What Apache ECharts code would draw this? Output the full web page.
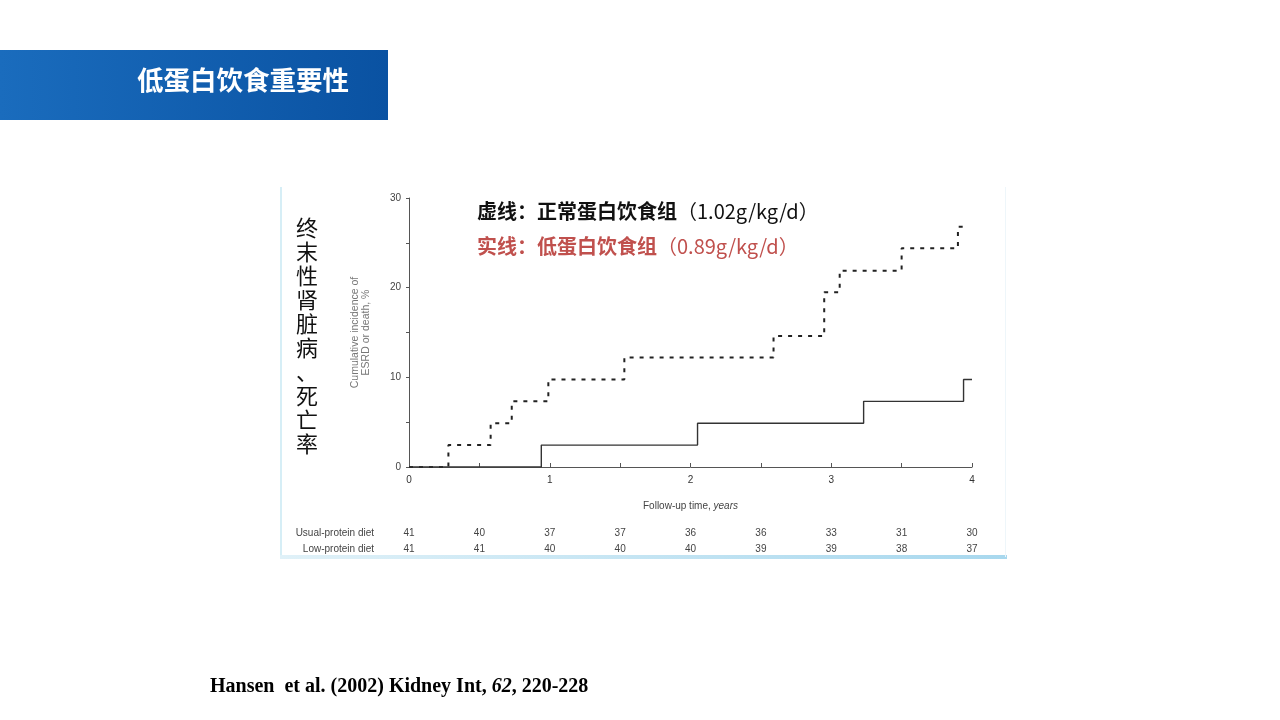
<!DOCTYPE html>
<html>
<head>
<meta charset="utf-8">
<title>低蛋白饮食重要性</title>
<script src="https://cdn.jsdelivr.net/npm/echarts@6/dist/echarts.min.js"></script>
<style>
  html, body { margin: 0; padding: 0; background: #fff; }
  #chart { width: 1280px; height: 720px; }
</style>
</head>
<body>
<div id="chart"></div>
<script>
// step points: time (years) and cumulative incidence (%) after each event
var usualTimes  = [0, 0.28, 0.58, 0.73, 0.99, 1.53, 2.59, 2.95, 3.06, 3.50, 3.90, 3.97];
var usualValues = [0, 2.44, 4.88, 7.32, 9.76, 12.2, 14.6, 19.5, 21.9, 24.4, 26.8, 26.8];
var lowTimes  = [0, 0.94, 2.05, 3.23, 3.94, 4.0];
var lowValues = [0, 2.44, 4.88, 7.32, 9.76, 9.76];

// numbers at risk, every half year
var riskUsual = [41, 40, 37, 37, 36, 36, 33, 31, 30];
var riskLow   = [41, 41, 40, 40, 40, 39, 39, 38, 37];

var yTicks = [0, 10, 20, 30];

function pairs(xs, ys) {
	var out = [];
	for (var i = 0; i < xs.length; i++) out.push([xs[i], ys[i]]);
	return out;
}

var chart = echarts.init(document.getElementById('chart'));

var axisFont = 'Liberation Sans, Arial, sans-serif';
var cjk = 'Noto Sans CJK SC';

function riskAxis(list, offset) {
	return {
		type: 'value', min: 0, max: 4, interval: 0.5,
		position: 'bottom', offset: offset,
		axisLine: { show: false }, axisTick: { show: false }, splitLine: { show: false },
		axisLabel: {
			margin: 3, fontSize: 10, color: '#444', fontFamily: axisFont,
			formatter: function (v) { return String(list[Math.round(v * 2)]); }
		}
	};
}

// legend note: bold CJK part, plain latin part
function note(top, cn, latin, color) {
	return {
		type: 'text', left: 477, top: top,
		style: {
			text: '{c|' + cn + '}{l|' + latin + '}',
			rich: {
				c: { fontSize: 20, fontWeight: 'bold', fill: color, fontFamily: cjk },
				l: { fontSize: 20, fontWeight: 'normal', fill: color, fontFamily: cjk }
			}
		}
	};
}

// right-aligned row label of the risk table
function rowLabel(y, text) {
	return {
		type: 'text', x: 374, y: y,
		style: { text: text, fill: '#444', fontSize: 10, fontFamily: axisFont,
			align: 'right', verticalAlign: 'middle' }
	};
}

var option = {
	backgroundColor: '#ffffff',
	animation: false,
	grid: { left: 409, right: 308, top: 198, bottom: 253 },
	xAxis: [{
		type: 'value', min: 0, max: 4, interval: 0.5,
		axisLine: { lineStyle: { color: '#555', width: 1 } },
		axisTick: { inside: true, length: 4, lineStyle: { color: '#555' } },
		splitLine: { show: false },
		axisLabel: {
			margin: 8, fontSize: 10, color: '#333', fontFamily: axisFont,
			formatter: function (v) { return v % 1 === 0 ? String(v) : ''; }
		},
		name: '{a|Follow-up time, }{i|years}',
		nameLocation: 'middle', nameGap: 34,
		nameTextStyle: {
			rich: {
				a: { fontSize: 10, color: '#444', fontFamily: axisFont },
				i: { fontSize: 10, color: '#444', fontFamily: axisFont, fontStyle: 'italic' }
			}
		}
	}, riskAxis(riskUsual, 58), riskAxis(riskLow, 74)],
	yAxis: {
		type: 'value', min: 0, max: 30, interval: 5,
		axisLine: { show: true, lineStyle: { color: '#555', width: 1 } },
		axisTick: { show: true, length: 3, lineStyle: { color: '#555' } },
		splitLine: { show: false },
		axisLabel: {
			margin: 8, fontSize: 10, color: '#444', fontFamily: axisFont,
			formatter: function (v) { return yTicks.indexOf(v) >= 0 ? String(v) : ''; }
		},
		name: 'Cumulative incidence of\nESRD or death, %',
		nameLocation: 'middle', nameGap: 37, nameRotate: 90,
		nameTextStyle: { fontSize: 10.5, color: '#777', fontFamily: axisFont, lineHeight: 11 }
	},
	series: [{
		name: 'Usual-protein diet', type: 'line', step: 'end', symbol: 'none',
		data: pairs(usualTimes, usualValues),
		lineStyle: { color: '#222', width: 2, type: [4, 6] }
	}, {
		name: 'Low-protein diet', type: 'line', step: 'end', symbol: 'none',
		data: pairs(lowTimes, lowValues),
		lineStyle: { color: '#333', width: 1.4 }
	}],
	graphic: [
		// title banner
		{
			type: 'rect', shape: { x: 0, y: 50, width: 388, height: 70 },
			style: {
				fill: new echarts.graphic.LinearGradient(0, 0, 1, 0, [
					{ offset: 0, color: '#1a6cbd' }, { offset: 1, color: '#0a52a2' }
				])
			}
		},
		{
			type: 'text', left: 137, top: 67,
			style: { text: '低蛋白饮食重要性', fill: '#fff', fontSize: 26.5, fontWeight: 'bold',
				fontFamily: cjk }
		},
		// frame of the figure
		{ type: 'rect', shape: { x: 280, y: 187, width: 2, height: 372 }, style: { fill: '#d6eef6' } },
		{
			type: 'rect', shape: { x: 280, y: 555, width: 727, height: 4 },
			style: {
				fill: new echarts.graphic.LinearGradient(0, 0, 1, 0, [
					{ offset: 0, color: '#e0f1f8' }, { offset: 1, color: '#a8d8ee' }
				])
			}
		},
		{ type: 'rect', shape: { x: 1005, y: 187, width: 1, height: 370 }, style: { fill: '#eef6fa' } },
		// left vertical label
		{
			type: 'text', left: 296, top: 216,
			style: { text: '终\n末\n性\n肾\n脏\n病\n、\n死\n亡\n率', fill: '#111', fontSize: 22,
				lineHeight: 24, fontFamily: cjk }
		},
		// legend notes
		note(201, '虚线：正常蛋白饮食组', '（1.02g/kg/d）', '#111'),
		note(236, '实线：低蛋白饮食组', '（0.89g/kg/d）', '#c0504d'),
		// risk table row labels
		rowLabel(533, 'Usual-protein diet'),
		rowLabel(549, 'Low-protein diet'),
		// citation
		{
			type: 'text', left: 210, top: 677,
			style: {
				text: '{b|Hansen  et al. (2002) Kidney Int, }{i|62}{b|, 220-228}',
				rich: {
					b: { fontSize: 20, fontWeight: 'bold', fill: '#000', fontFamily: 'Liberation Serif' },
					i: { fontSize: 20, fontWeight: 'bold', fontStyle: 'italic', fill: '#000', fontFamily: 'Liberation Serif' }
				}
			}
		}
	]
};

chart.setOption(option);
</script>
</body>
</html>
